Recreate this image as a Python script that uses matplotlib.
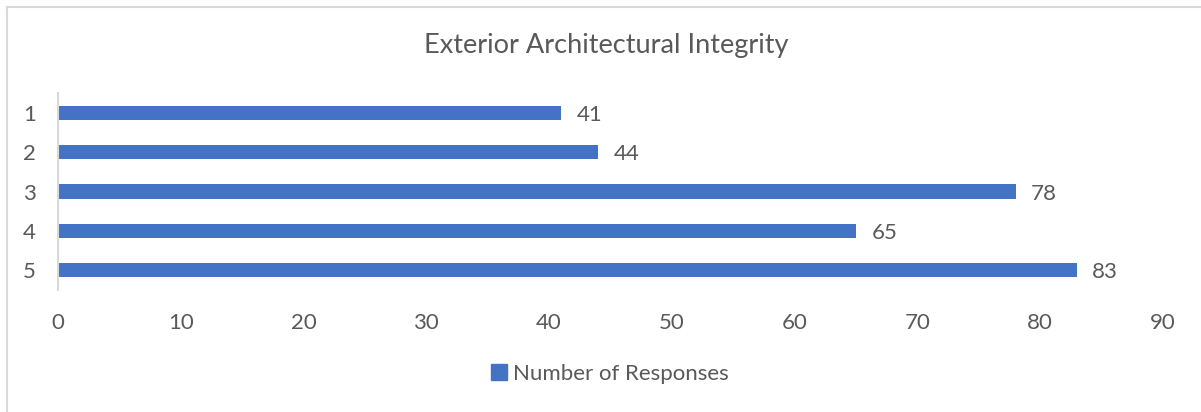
import matplotlib
matplotlib.use("Agg")
import matplotlib.pyplot as plt
from matplotlib.lines import Line2D
from matplotlib.patches import Patch

categories = ["1", "2", "3", "4", "5"]
values = [41, 44, 78, 65, 83]
xticks = [0, 10, 20, 30, 40, 50, 60, 70, 80, 90]
title = "Exterior Architectural Integrity"
series_name = "Number of Responses"

BAR = "#4472C4"
TXT = "#595959"
GRID = "#D9D9D9"

plt.rcParams['font.family'] = ['Lato', 'DejaVu Sans']

W, H = 1201, 412
fig = plt.figure(figsize=(W / 100, H / 100), dpi=100)
ax = fig.add_axes([58 / W, 1 - 289.6 / H, (1163 - 58) / W, (289.6 - 93.4) / H])

y = list(range(len(categories)))
ax.barh(y, values, height=0.36, color=BAR, zorder=2)
ax.set_ylim(len(categories) - 0.5, -0.5)
ax.set_xlim(0, 90)
ax.set_xticks(xticks)
ax.set_xticklabels([str(t) for t in xticks])
ax.set_yticks(y)
ax.set_yticklabels(categories)
ax.tick_params(axis='both', length=0, labelsize=16, colors=TXT)
ax.tick_params(axis='x', pad=17)
ax.tick_params(axis='y', pad=16)
for s in ['top', 'right', 'bottom']:
    ax.spines[s].set_visible(False)
ax.spines['left'].set_color(GRID)
ax.spines['left'].set_linewidth(1.5)

for yi, v in zip(y, values):
    ax.annotate(str(v), xy=(v, yi), xytext=(11, -1.5), textcoords='offset points',
                ha='left', va='center', fontsize=16, color=TXT)

fig.text(606 / W, 1 - 45 / H, title, ha='center', va='center', fontsize=19.5, color=TXT)

handle = Patch(facecolor=BAR, edgecolor=BAR)
fig.legend([handle], [series_name], loc='center', bbox_to_anchor=(610 / W, 1 - 374 / H),
           frameon=False, fontsize=16, labelcolor=TXT, handlelength=0.7, handleheight=0.7,
           handletextpad=0.3)

# chart area border (left and top visible)
fig.add_artist(Line2D([6.5 / W, 6.5 / W], [0, 1 - 6.5 / H], transform=fig.transFigure, color=GRID, lw=1.5))
fig.add_artist(Line2D([6.5 / W, 1], [1 - 6.5 / H, 1 - 6.5 / H], transform=fig.transFigure, color=GRID, lw=1.5))

fig.savefig("out.png", dpi=100)
